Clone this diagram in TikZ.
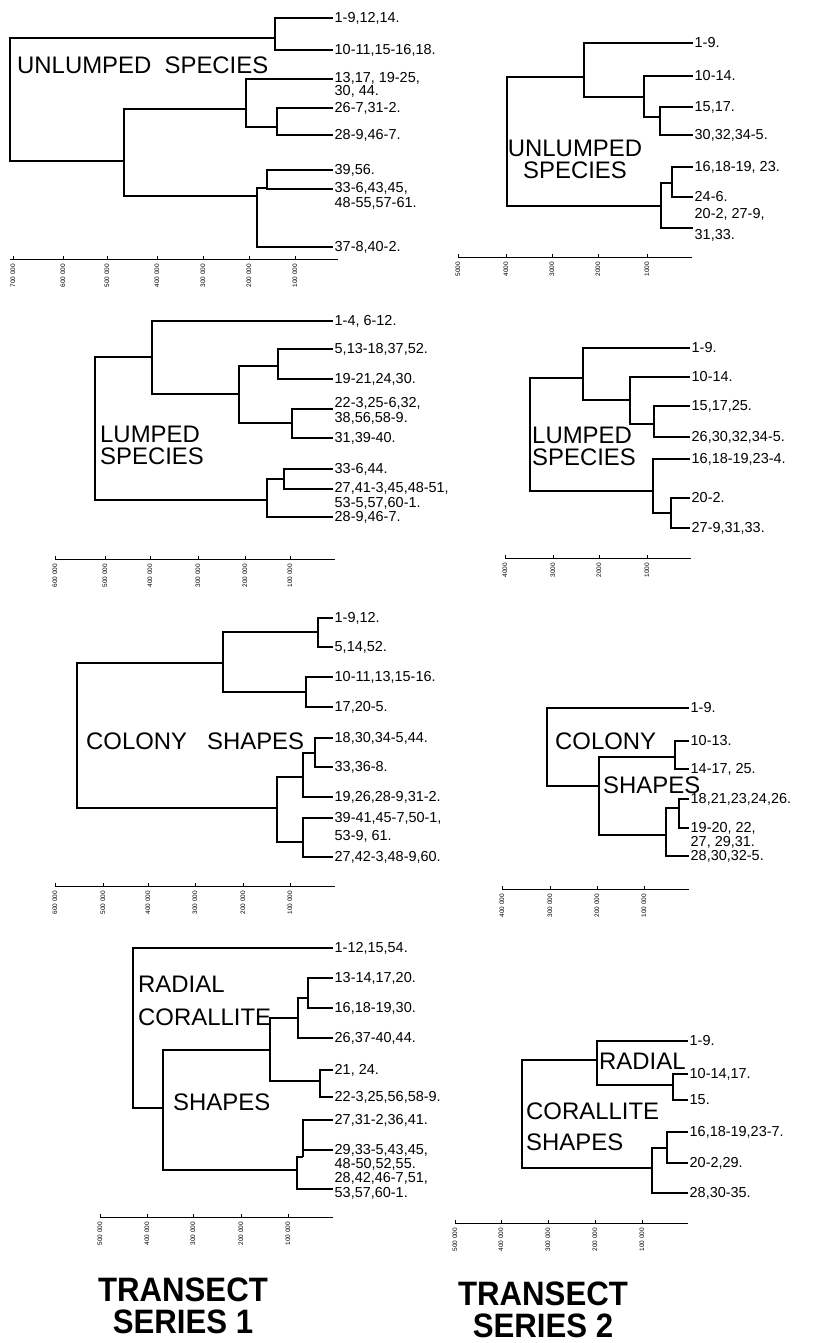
\documentclass[tikz,border=0pt]{standalone}
\usepackage{fontspec}
\setmainfont{Liberation Sans}

\begin{document}
\begin{tikzpicture}[x=1bp, y=-1bp,
      branch/.style ={draw=black, line width=1.1bp},
      leaf_label/.style ={anchor=west, inner sep=1.5bp, align=left,
        font=\fontsize{14.5}{15}\selectfont},
      group_label/.style ={anchor=west, inner sep=0pt, align=left,
        font=\fontsize{24}{22}\selectfont},
      scale_label/.style ={rotate=90, anchor=east, inner sep=0.5bp,
        font=\fontsize{6.5}{7}\selectfont},
      axis_line/.style ={draw=black, line width=1bp},
      title_label/.style ={align=center, inner sep=0pt,
        font=\bfseries\fontsize{34}{32}\selectfont}]
    \useasboundingbox (0,0) rectangle (819,1343);
    %
    % 1. junctions, leaf ends and labels of the eight dendrograms
    % series 1 - unlumped species
    \coordinate (u1r) at (10,100);
    \coordinate (u1a) at (275,38);
    \coordinate (u1b) at (124,161);
    \coordinate (u1c) at (246,109);
    \coordinate (u1d) at (277,127);
    \coordinate (u1e) at (257,196);
    \coordinate (u1f) at (267,188);
    \coordinate (u1_1) at (333,18);
    \coordinate (u1_2) at (333,50);
    \coordinate (u1_3) at (333,79);
    \coordinate (u1_4) at (333,108);
    \coordinate (u1_5) at (333,135);
    \coordinate (u1_6) at (333,170);
    \coordinate (u1_7) at (333,189);
    \coordinate (u1_8) at (333,247);
    \node [leaf_label] (t_u1_1) at (u1_1) {1-9,12,14.};
    \node [leaf_label] (t_u1_2) at (u1_2) {10-11,15-16,18.};
    \node [leaf_label, font=\fontsize{14.5}{13}\selectfont] (t_u1_3) at (333,85) {13,17, 19-25,\\30, 44.};
    \node [leaf_label] (t_u1_4) at (u1_4) {26-7,31-2.};
    \node [leaf_label] (t_u1_5) at (u1_5) {28-9,46-7.};
    \node [leaf_label] (t_u1_6) at (u1_6) {39,56.};
    \node [leaf_label] (t_u1_7) at (333,196) {33-6,43,45,\\48-55,57-61.};
    \node [leaf_label] (t_u1_8) at (u1_8) {37-8,40-2.};
    \node [group_label] (g_u1) at (17,65) {UNLUMPED\ \ SPECIES};
    %
    % series 2 - unlumped species
    \coordinate (u2r) at (507,140);
    \coordinate (u2a) at (584,77);
    \coordinate (u2b) at (644,97);
    \coordinate (u2c) at (660,117);
    \coordinate (u2d) at (661,206);
    \coordinate (u2e) at (672,183);
    \coordinate (u2_1) at (693,43);
    \coordinate (u2_2) at (693,76);
    \coordinate (u2_3) at (693,107);
    \coordinate (u2_4) at (693,135);
    \coordinate (u2_5) at (693,167);
    \coordinate (u2_6) at (693,197);
    \coordinate (u2_7) at (693,228);
    \node [leaf_label] (t_u2_1) at (u2_1) {1-9.};
    \node [leaf_label] (t_u2_2) at (u2_2) {10-14.};
    \node [leaf_label] (t_u2_3) at (u2_3) {15,17.};
    \node [leaf_label] (t_u2_4) at (u2_4) {30,32,34-5.};
    \node [leaf_label] (t_u2_5) at (u2_5) {16,18-19, 23.};
    \node [leaf_label] (t_u2_6) at (u2_6) {24-6.};
    \node [leaf_label, font=\fontsize{14.5}{21}\selectfont] (t_u2_7) at (693,225) {20-2, 27-9,\\31,33.};
    \node [group_label, anchor=center, align=center] (g_u2) at (575,159) {UNLUMPED\\SPECIES};
    %
    % series 1 - lumped species
    \coordinate (l1r) at (95,430);
    \coordinate (l1a) at (152,357);
    \coordinate (l1b) at (239,394);
    \coordinate (l1c) at (278,366);
    \coordinate (l1d) at (292,423);
    \coordinate (l1e) at (267,500);
    \coordinate (l1f) at (284,479);
    \coordinate (l1_1) at (333,321);
    \coordinate (l1_2) at (333,349);
    \coordinate (l1_3) at (333,379);
    \coordinate (l1_4) at (333,409);
    \coordinate (l1_5) at (333,438);
    \coordinate (l1_6) at (333,469);
    \coordinate (l1_7) at (333,489);
    \coordinate (l1_8) at (333,517);
    \node [leaf_label] (t_l1_1) at (l1_1) {1-4, 6-12.};
    \node [leaf_label] (t_l1_2) at (l1_2) {5,13-18,37,52.};
    \node [leaf_label] (t_l1_3) at (l1_3) {19-21,24,30.};
    \node [leaf_label] (t_l1_4) at (333,411) {22-3,25-6,32,\\38,56,58-9.};
    \node [leaf_label] (t_l1_5) at (l1_5) {31,39-40.};
    \node [leaf_label] (t_l1_6) at (l1_6) {33-6,44.};
    \node [leaf_label] (t_l1_7) at (333,496) {27,41-3,45,48-51,\\53-5,57,60-1.};
    \node [leaf_label] (t_l1_8) at (l1_8) {28-9,46-7.};
    \node [group_label] (g_l1) at (100,445) {LUMPED\\SPECIES};
    %
    % series 2 - lumped species
    \coordinate (l2r) at (530,440);
    \coordinate (l2a) at (583,378);
    \coordinate (l2b) at (630,400);
    \coordinate (l2c) at (654,424);
    \coordinate (l2d) at (653,491);
    \coordinate (l2e) at (671,513);
    \coordinate (l2_1) at (690,348);
    \coordinate (l2_2) at (690,377);
    \coordinate (l2_3) at (690,406);
    \coordinate (l2_4) at (690,437);
    \coordinate (l2_5) at (690,459);
    \coordinate (l2_6) at (690,498);
    \coordinate (l2_7) at (690,528);
    \node [leaf_label] (t_l2_1) at (l2_1) {1-9.};
    \node [leaf_label] (t_l2_2) at (l2_2) {10-14.};
    \node [leaf_label] (t_l2_3) at (l2_3) {15,17,25.};
    \node [leaf_label] (t_l2_4) at (l2_4) {26,30,32,34-5.};
    \node [leaf_label] (t_l2_5) at (l2_5) {16,18-19,23-4.};
    \node [leaf_label] (t_l2_6) at (l2_6) {20-2.};
    \node [leaf_label] (t_l2_7) at (l2_7) {27-9,31,33.};
    \node [group_label] (g_l2) at (532,446) {LUMPED\\SPECIES};
    %
    % series 1 - colony shapes
    \coordinate (c1r) at (77,735);
    \coordinate (c1a) at (223,663);
    \coordinate (c1b) at (318,632);
    \coordinate (c1c) at (306,692);
    \coordinate (c1d) at (277,808);
    \coordinate (c1e) at (303,777);
    \coordinate (c1f) at (315,753);
    \coordinate (c1g) at (303,842);
    \coordinate (c1_1) at (333,618);
    \coordinate (c1_2) at (333,647);
    \coordinate (c1_3) at (333,677);
    \coordinate (c1_4) at (333,707);
    \coordinate (c1_5) at (333,738);
    \coordinate (c1_6) at (333,767);
    \coordinate (c1_7) at (333,797);
    \coordinate (c1_8) at (333,818);
    \coordinate (c1_9) at (333,857);
    \node [leaf_label] (t_c1_1) at (c1_1) {1-9,12.};
    \node [leaf_label] (t_c1_2) at (c1_2) {5,14,52.};
    \node [leaf_label] (t_c1_3) at (c1_3) {10-11,13,15-16.};
    \node [leaf_label] (t_c1_4) at (c1_4) {17,20-5.};
    \node [leaf_label] (t_c1_5) at (c1_5) {18,30,34-5,44.};
    \node [leaf_label] (t_c1_6) at (c1_6) {33,36-8.};
    \node [leaf_label] (t_c1_7) at (c1_7) {19,26,28-9,31-2.};
    \node [leaf_label, font=\fontsize{14.5}{18}\selectfont] (t_c1_8) at (333,827) {39-41,45-7,50-1,\\53-9, 61.};
    \node [leaf_label] (t_c1_9) at (c1_9) {27,42-3,48-9,60.};
    \node [group_label] (g_c1) at (86,741) {COLONY\ \ \ SHAPES};
    %
    % series 2 - colony shapes
    \coordinate (c2r) at (547,747);
    \coordinate (c2a) at (599,786);
    \coordinate (c2b) at (675,757);
    \coordinate (c2c) at (666,835);
    \coordinate (c2d) at (679,808);
    \coordinate (c2_1) at (689,708);
    \coordinate (c2_2) at (689,741);
    \coordinate (c2_3) at (689,769);
    \coordinate (c2_4) at (689,799);
    \coordinate (c2_5) at (689,828);
    \coordinate (c2_6) at (689,856);
    \node [leaf_label] (t_c2_1) at (c2_1) {1-9.};
    \node [leaf_label] (t_c2_2) at (c2_2) {10-13.};
    \node [leaf_label] (t_c2_3) at (c2_3) {14-17, 25.};
    \node [leaf_label] (t_c2_4) at (c2_4) {18,21,23,24,26.};
    \node [leaf_label, font=\fontsize{14.5}{14}\selectfont] (t_c2_5) at (689,835) {19-20, 22,\\27, 29,31.};
    \node [leaf_label] (t_c2_6) at (c2_6) {28,30,32-5.};
    \node [group_label] (g_c2a) at (555,741) {COLONY};
    \node [group_label] (g_c2b) at (603,785) {SHAPES};
    %
    % series 1 - radial corallite shapes
    \coordinate (r1r) at (133,1030);
    \coordinate (r1a) at (163,1108);
    \coordinate (r1b) at (270,1050);
    \coordinate (r1c) at (298,1018);
    \coordinate (r1d) at (308,998);
    \coordinate (r1e) at (320,1081);
    \coordinate (r1f) at (297,1170);
    \coordinate (r1g) at (303,1157);
    \coordinate (r1_1) at (333,948);
    \coordinate (r1_2) at (333,978);
    \coordinate (r1_3) at (333,1008);
    \coordinate (r1_4) at (333,1038);
    \coordinate (r1_5) at (333,1070);
    \coordinate (r1_6) at (333,1097);
    \coordinate (r1_7) at (333,1120);
    \coordinate (r1_8) at (333,1150);
    \coordinate (r1_9) at (333,1189);
    \node [leaf_label] (t_r1_1) at (r1_1) {1-12,15,54.};
    \node [leaf_label] (t_r1_2) at (r1_2) {13-14,17,20.};
    \node [leaf_label] (t_r1_3) at (r1_3) {16,18-19,30.};
    \node [leaf_label] (t_r1_4) at (r1_4) {26,37-40,44.};
    \node [leaf_label] (t_r1_5) at (r1_5) {21, 24.};
    \node [leaf_label] (t_r1_6) at (r1_6) {22-3,25,56,58-9.};
    \node [leaf_label] (t_r1_7) at (r1_7) {27,31-2,36,41.};
    \node [leaf_label, font=\fontsize{14.5}{14}\selectfont] (t_r1_8) at (333,1157) {29,33-5,43,45,\\48-50,52,55.};
    \node [leaf_label] (t_r1_9) at (333,1186) {28,42,46-7,51,\\53,57,60-1.};
    \node [group_label] (g_r1a) at (138,984) {RADIAL};
    \node [group_label] (g_r1b) at (138,1017) {CORALLITE};
    \node [group_label] (g_r1c) at (173,1102) {SHAPES};
    %
    % series 2 - radial corallite shapes
    \coordinate (r2r) at (522,1110);
    \coordinate (r2a) at (597,1060);
    \coordinate (r2b) at (673,1085);
    \coordinate (r2c) at (652,1168);
    \coordinate (r2d) at (667,1148);
    \coordinate (r2_1) at (688,1041);
    \coordinate (r2_2) at (688,1074);
    \coordinate (r2_3) at (688,1100);
    \coordinate (r2_4) at (688,1132);
    \coordinate (r2_5) at (688,1163);
    \coordinate (r2_6) at (688,1193);
    \node [leaf_label] (t_r2_1) at (r2_1) {1-9.};
    \node [leaf_label] (t_r2_2) at (r2_2) {10-14,17.};
    \node [leaf_label] (t_r2_3) at (r2_3) {15.};
    \node [leaf_label] (t_r2_4) at (r2_4) {16,18-19,23-7.};
    \node [leaf_label] (t_r2_5) at (r2_5) {20-2,29.};
    \node [leaf_label] (t_r2_6) at (r2_6) {28,30-35.};
    \node [group_label] (g_r2a) at (599,1061) {RADIAL};
    \node [group_label] (g_r2b) at (526,1111) {CORALLITE};
    \node [group_label] (g_r2c) at (526,1142) {SHAPES};
    %
    % 2. connecting junctions with elbow paths
    \begin{scope}[every path/.style=branch]
      % series 1 - unlumped
      \path (u1r) |- (u1a);
      \path (u1r) |- (u1b);
      \path (u1a) |- (u1_1);
      \path (u1a) |- (u1_2);
      \path (u1b) |- (u1c);
      \path (u1b) |- (u1e);
      \path (u1c) |- (u1_3);
      \path (u1c) |- (u1d);
      \path (u1d) |- (u1_4);
      \path (u1d) |- (u1_5);
      \path (u1e) |- (u1f);
      \path (u1e) |- (u1_8);
      \path (u1f) |- (u1_6);
      \path (u1f) |- (u1_7);
      % series 2 - unlumped
      \path (u2r) |- (u2a);
      \path (u2r) |- (u2d);
      \path (u2a) |- (u2_1);
      \path (u2a) |- (u2b);
      \path (u2b) |- (u2_2);
      \path (u2b) |- (u2c);
      \path (u2c) |- (u2_3);
      \path (u2c) |- (u2_4);
      \path (u2d) |- (u2e);
      \path (u2d) |- (u2_7);
      \path (u2e) |- (u2_5);
      \path (u2e) |- (u2_6);
      % series 1 - lumped
      \path (l1r) |- (l1a);
      \path (l1r) |- (l1e);
      \path (l1a) |- (l1_1);
      \path (l1a) |- (l1b);
      \path (l1b) |- (l1c);
      \path (l1b) |- (l1d);
      \path (l1c) |- (l1_2);
      \path (l1c) |- (l1_3);
      \path (l1d) |- (l1_4);
      \path (l1d) |- (l1_5);
      \path (l1e) |- (l1f);
      \path (l1e) |- (l1_8);
      \path (l1f) |- (l1_6);
      \path (l1f) |- (l1_7);
      % series 2 - lumped
      \path (l2r) |- (l2a);
      \path (l2r) |- (l2d);
      \path (l2a) |- (l2_1);
      \path (l2a) |- (l2b);
      \path (l2b) |- (l2_2);
      \path (l2b) |- (l2c);
      \path (l2c) |- (l2_3);
      \path (l2c) |- (l2_4);
      \path (l2d) |- (l2_5);
      \path (l2d) |- (l2e);
      \path (l2e) |- (l2_6);
      \path (l2e) |- (l2_7);
      % series 1 - colony
      \path (c1r) |- (c1a);
      \path (c1r) |- (c1d);
      \path (c1a) |- (c1b);
      \path (c1a) |- (c1c);
      \path (c1b) |- (c1_1);
      \path (c1b) |- (c1_2);
      \path (c1c) |- (c1_3);
      \path (c1c) |- (c1_4);
      \path (c1d) |- (c1e);
      \path (c1d) |- (c1g);
      \path (c1e) |- (c1f);
      \path (c1e) |- (c1_7);
      \path (c1f) |- (c1_5);
      \path (c1f) |- (c1_6);
      \path (c1g) |- (c1_8);
      \path (c1g) |- (c1_9);
      % series 2 - colony
      \path (c2r) |- (c2_1);
      \path (c2r) |- (c2a);
      \path (c2a) |- (c2b);
      \path (c2a) |- (c2c);
      \path (c2b) |- (c2_2);
      \path (c2b) |- (c2_3);
      \path (c2c) |- (c2d);
      \path (c2c) |- (c2_6);
      \path (c2d) |- (c2_4);
      \path (c2d) |- (c2_5);
      % series 1 - radial
      \path (r1r) |- (r1_1);
      \path (r1r) |- (r1a);
      \path (r1a) |- (r1b);
      \path (r1a) |- (r1f);
      \path (r1b) |- (r1c);
      \path (r1b) |- (r1e);
      \path (r1c) |- (r1d);
      \path (r1c) |- (r1_4);
      \path (r1d) |- (r1_2);
      \path (r1d) |- (r1_3);
      \path (r1e) |- (r1_5);
      \path (r1e) |- (r1_6);
      \path (r1f) |- (r1g);
      \path (r1f) |- (r1_9);
      \path (r1g) |- (r1_7);
      \path (r1g) |- (r1_8);
      % series 2 - radial
      \path (r2r) |- (r2a);
      \path (r2r) |- (r2c);
      \path (r2a) |- (r2_1);
      \path (r2a) |- (r2b);
      \path (r2b) |- (r2_2);
      \path (r2b) |- (r2_3);
      \path (r2c) |- (r2d);
      \path (r2c) |- (r2_6);
      \path (r2d) |- (r2_4);
      \path (r2d) |- (r2_5);
    \end{scope}
    %
    % 3. distance scales under each dendrogram
    \draw [axis_line] (10,259) -- (338,259);
    \foreach \x/\v [count=\i] in {13/700,63/600,107/500,157/400,203/300,249/200,295/100}
      \draw [axis_line] (\x,259) -- (\x,256) node [scale_label] (s_u1_\i) at (\x,263) {\v\ 000};
    \draw [axis_line] (458,257) -- (692,257);
    \foreach \x/\v [count=\i] in {458/5,506/4,552/3,598/2,647/1}
      \draw [axis_line] (\x,257) -- (\x,254) node [scale_label] (s_u2_\i) at (\x,261) {\v 000};
    \draw [axis_line] (55,559) -- (335,559);
    \foreach \x/\v [count=\i] in {55/600,105/500,150/400,198/300,245/200,290/100}
      \draw [axis_line] (\x,559) -- (\x,556) node [scale_label] (s_l1_\i) at (\x,563) {\v\ 000};
    \draw [axis_line] (505,558) -- (691,558);
    \foreach \x/\v [count=\i] in {505/4,553/3,599/2,647/1}
      \draw [axis_line] (\x,558) -- (\x,555) node [scale_label] (s_l2_\i) at (\x,562) {\v 000};
    \draw [axis_line] (55,886) -- (335,886);
    \foreach \x/\v [count=\i] in {55/600,103/500,148/400,195/300,243/200,290/100}
      \draw [axis_line] (\x,886) -- (\x,883) node [scale_label] (s_c1_\i) at (\x,890) {\v\ 000};
    \draw [axis_line] (502,889) -- (689,889);
    \foreach \x/\v [count=\i] in {502/400,550/300,597/200,644/100}
      \draw [axis_line] (\x,889) -- (\x,886) node [scale_label] (s_c2_\i) at (\x,893) {\v\ 000};
    \draw [axis_line] (100,1217) -- (333,1217);
    \foreach \x/\v [count=\i] in {100/500,147/400,193/300,241/200,288/100}
      \draw [axis_line] (\x,1217) -- (\x,1214) node [scale_label] (s_r1_\i) at (\x,1221) {\v\ 000};
    \draw [axis_line] (455,1223) -- (688,1223);
    \foreach \x/\v [count=\i] in {455/500,501/400,548/300,595/200,642/100}
      \draw [axis_line] (\x,1223) -- (\x,1220) node [scale_label] (s_r2_\i) at (\x,1227) {\v\ 000};
    %
    % 4. titles
    \node [title_label] (title_1) at (183,1306) {\scalebox{0.92}[1]{TRANSECT}\\\scalebox{0.92}[1]{SERIES 1}};
    \node [title_label] (title_2) at (543,1310) {\scalebox{0.92}[1]{TRANSECT}\\\scalebox{0.92}[1]{SERIES 2}};
  \end{tikzpicture}
\end{document}
